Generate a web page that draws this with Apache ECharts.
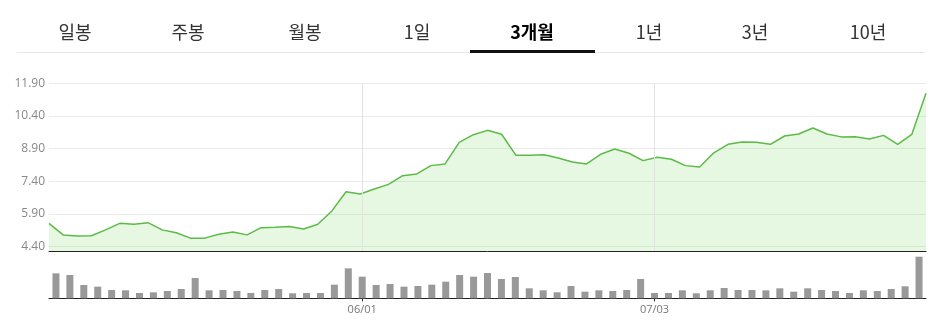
<!DOCTYPE html>
<html><head><meta charset="utf-8">
<script src="https://cdn.jsdelivr.net/npm/echarts@6/dist/echarts.min.js"></script>
<style>html,body{margin:0;padding:0;background:#fff}#c{width:937px;height:321px}</style>
</head><body><div id="c"></div>
<script>
const tabs = ['일봉','주봉','월봉','1일','3개월','1년','3년','10년'];
const activeTab = '3개월';
const dates = ['04/27','04/28','05/02','05/03','05/04','05/08','05/09','05/10','05/11','05/12','05/15','05/16','05/17','05/18','05/19','05/22','05/23','05/24','05/25','05/26','05/30','05/31',
'06/01','06/02','06/05','06/07','06/08','06/09','06/12','06/13','06/14','06/15','06/16','06/19','06/20','06/21','06/22','06/23','06/26','06/27','06/28','06/29','06/30',
'07/03','07/04','07/05','07/06','07/07','07/10','07/11','07/12','07/13','07/14','07/17','07/18','07/19','07/20','07/21','07/24','07/25','07/26','07/27','07/28'];
const xTickLabels = ['06/01','07/03'];
const yTickValues = [4.40, 5.90, 7.40, 8.90, 10.40, 11.90];
const price = [5.47,4.94,4.89,4.90,5.17,5.47,5.43,5.50,5.17,5.04,4.79,4.79,4.97,5.07,4.94,5.27,5.29,5.32,5.21,5.43,
6.04,6.92,6.82,7.05,7.26,7.66,7.74,8.12,8.20,9.19,9.54,9.74,9.56,8.60,8.60,8.62,8.47,8.29,8.20,8.64,8.88,8.69,
8.35,8.50,8.41,8.12,8.06,8.71,9.10,9.21,9.19,9.10,9.48,9.57,9.85,9.57,9.44,9.45,9.34,9.51,9.10,9.56,11.44];
const volume = [75,70,40,35,25,24,16,18,22,28,61,24,25,22,16,25,28,15,16,16,41,
90,65,40,43,35,37,41,50,70,65,76,58,64,30,24,18,37,20,24,22,25,
58,16,16,24,15,24,31,25,25,24,30,20,30,25,22,16,24,22,28,36,125];

const tabCenters = [75,188,305,417,532,649,755,868];

const chart = echarts.init(document.getElementById('c'), null, {renderer:'canvas'});
const graphics = [];
graphics.push({type:'rect', shape:{x:17,y:52,width:908,height:1}, style:{fill:'#e6e6e6'}, silent:true});
tabs.forEach((t,i)=>{
  const act = t===activeTab;
  graphics.push({type:'text', x:tabCenters[i], y:32, silent:true,
    style:{text:t, fill: act?'#000':'#333', font:(act?'bold ':'')+'18px "Noto Sans CJK KR", sans-serif', align:'center', verticalAlign:'middle'}});
  if(act) graphics.push({type:'rect', shape:{x:470,y:50,width:125,height:3}, style:{fill:'#111'}, silent:true});
});
const showTick = (idx, val) => xTickLabels.indexOf(val) >= 0;
chart.setOption({
  animation:false,
  graphic: graphics,
  grid:[{left:49, right:11, top:83.3, bottom:70},{left:49, right:11, top:256.7, bottom:22.7}],
  xAxis:[
    {gridIndex:0, type:'category', data:dates, boundaryGap:false,
     axisLine:{lineStyle:{color:'#222', width:1}}, axisTick:{show:false}, axisLabel:{show:false}, splitLine:{show:false}},
    {gridIndex:0, type:'category', data:dates, boundaryGap:true, show:false},
    {gridIndex:1, type:'category', data:dates, boundaryGap:true,
     axisLine:{lineStyle:{color:'#222', width:1}},
     axisTick:{show:true, alignWithLabel:true, interval:showTick, length:3, lineStyle:{color:'#222'}},
     axisLabel:{interval:showTick, color:'#777', fontSize:11, margin:6, fontFamily:'"Open Sans", sans-serif'},
     splitLine:{show:false}}
  ],
  yAxis:[
    {gridIndex:0, type:'value', min:4.2, max:11.9,
     axisLine:{show:false},
     axisTick:{show:false, customValues:yTickValues},
     axisLabel:{customValues:yTickValues, formatter:v=>v.toFixed(2), color:'#888', fontSize:12, margin:4, fontFamily:'"Open Sans", sans-serif'},
     splitLine:{show:true, lineStyle:{color:'#ebebeb', width:1}}},
    {gridIndex:1, type:'value', min:0, max:v=>v.max, show:false}
  ],
  series:[
    {type:'line', xAxisIndex:1, yAxisIndex:0, data:[], silent:true, z:1,
     markLine:{silent:true, symbol:['none','none'], label:{show:false}, animation:false,
       lineStyle:{color:'#e2e2e2', width:1, type:'solid'},
       emphasis:{disabled:true},
       data: xTickLabels.map(d=>({xAxis:d}))}},
    {type:'line', xAxisIndex:0, yAxisIndex:0, data:price, symbol:'none', z:2,
     lineStyle:{color:'#5cbb47', width:1.5},
     areaStyle:{color:'rgba(115,208,95,0.26)'}},
    {type:'bar', xAxisIndex:2, yAxisIndex:1, data:volume, barWidth:7,
     itemStyle:{color:'#999999'}}
  ]
});
</script></body></html>
